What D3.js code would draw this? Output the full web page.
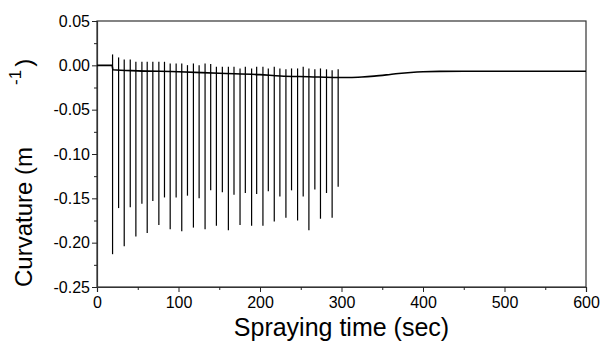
<!DOCTYPE html>
<html>
<head>
<meta charset="utf-8">
<script src="https://cdn.jsdelivr.net/npm/d3@7"></script>
<style>
  body { margin: 0; background: #fff; }
  svg text { font-family: "Liberation Sans", Arial, sans-serif; fill: #000; }
</style>
</head>
<body>
<div id="chart"></div>
<script>
// spray pulses: time (sec), top and bottom of each spike (1/m)
const spikeTimes = [19.1, 26.5, 33.4, 40.8, 47.7, 55.1, 61.6, 68.5, 75.9, 82.8,
  89.8, 97.1, 104.0, 111.0, 118.3, 125.3, 132.6, 139.5, 146.5, 153.8,
  161.2, 168.1, 175.5, 182.0, 189.7, 195.9, 203.6, 210.2, 217.5, 224.4,
  231.8, 238.7, 246.1, 253.0, 260.0, 267.3, 274.2, 281.6, 288.5, 295.9];
const spikeTops = [0.0123, 0.0089, 0.0066, 0.0066, 0.004, 0.004, 0.004, 0.004, 0.004, 0.004,
  0.0021, 0.0021, 0.0021, 0.0002, 0.0021, 0.0002, 0.0021, 0.0014, -0.0017, -0.0017,
  -0.0017, -0.0017, -0.0035, -0.0017, -0.0035, -0.0017, -0.0017, -0.0035, -0.0017, -0.0035,
  -0.0045, -0.0035, -0.0035, -0.0017, -0.0035, -0.0045, -0.0035, -0.0045, -0.0055, -0.0045];
const spikeBottoms = [-0.213, -0.161, -0.204, -0.160, -0.193, -0.156, -0.189, -0.153, -0.180, -0.149,
  -0.185, -0.149, -0.187, -0.147, -0.183, -0.150, -0.185, -0.141, -0.181, -0.143,
  -0.186, -0.146, -0.180, -0.144, -0.181, -0.145, -0.181, -0.142, -0.176, -0.148,
  -0.172, -0.141, -0.175, -0.148, -0.186, -0.140, -0.173, -0.144, -0.172, -0.137];

// slow curvature drift between pulses
const baseTimes = [0, 18.5, 19.5, 50, 100, 150, 200, 225, 260, 295, 310, 325, 340, 355, 370, 385, 400, 420, 450, 600];
const baseValues = [0, 0, -0.005, -0.0062, -0.0072, -0.009, -0.0105, -0.012, -0.0128, -0.0137,
  -0.0137, -0.0132, -0.0122, -0.0108, -0.0092, -0.0080, -0.0072, -0.0068, -0.0067, -0.0067];

const xTicks = [0, 100, 200, 300, 400, 500, 600];
const yTicks = [0.05, 0, -0.05, -0.10, -0.15, -0.20, -0.25];

const width = 603, height = 343;
const margin = { top: 21, right: 17, bottom: 56, left: 97 };

const svg = d3.select("#chart").append("svg")
  .attr("width", width)
  .attr("height", height);

const x = d3.scaleLinear([0, 600], [margin.left, width - margin.right]);
const y = d3.scaleLinear([-0.25, 0.05], [height - margin.bottom, margin.top]);

// frame
svg.append("rect")
  .attr("x", x(0)).attr("y", y(0.05))
  .attr("width", x(600) - x(0)).attr("height", y(-0.25) - y(0.05))
  .attr("fill", "none").attr("stroke", "#333").attr("stroke-width", 1.2);

// axes
const xAxis = svg.append("g")
  .attr("transform", `translate(0,${y(-0.25)})`)
  .call(d3.axisBottom(x).tickValues(xTicks).tickFormat(d3.format("d")).tickSize(5).tickPadding(5));
svg.append("g")
  .attr("transform", `translate(0,${y(-0.25)})`)
  .call(d3.axisBottom(x).tickValues(d3.range(50, 600, 100)).tickFormat("").tickSize(3))
  .select(".domain").remove();

const yAxis = svg.append("g")
  .attr("transform", `translate(${x(0)},0)`)
  .call(d3.axisLeft(y).tickValues(yTicks).tickFormat(d3.format(".2f")).tickSize(5).tickPadding(2));
svg.append("g")
  .attr("transform", `translate(${x(0)},0)`)
  .call(d3.axisLeft(y).tickValues(d3.range(-0.225, 0.05, 0.05)).tickFormat("").tickSize(3))
  .select(".domain").remove();

svg.selectAll(".domain").attr("stroke", "#333").attr("stroke-width", 1.2);
svg.selectAll(".tick line").attr("stroke", "#222");
xAxis.selectAll("text").attr("font-size", 16).attr("fill", "#000");
yAxis.selectAll("text").attr("font-size", 16).attr("fill", "#000")
  .text(d => d3.format(".2f")(d).replace("−", "-"));

// baseline trace
svg.append("path")
  .datum(d3.zip(baseTimes, baseValues))
  .attr("fill", "none")
  .attr("stroke", "#000")
  .attr("stroke-width", 1.6)
  .attr("d", d3.line().x(d => x(d[0])).y(d => y(d[1])).curve(d3.curveMonotoneX));

// spikes
svg.append("g")
  .selectAll("line")
  .data(d3.zip(spikeTimes, spikeTops, spikeBottoms))
  .join("line")
    .attr("x1", d => x(d[0])).attr("x2", d => x(d[0]))
    .attr("y1", d => y(d[1])).attr("y2", d => y(d[2]))
    .attr("stroke", "#000")
    .attr("stroke-width", 1.2);

// axis titles
svg.append("text")
  .attr("x", (x(0) + x(600)) / 2)
  .attr("y", 336)
  .attr("text-anchor", "middle")
  .attr("font-size", 25)
  .text("Spraying time (sec)");

const yLabel = svg.append("text")
  .attr("transform", `translate(32,287) rotate(-90)`)
  .attr("text-anchor", "start")
  .attr("font-size", 24);
yLabel.append("tspan").text("Curvature (m");
yLabel.append("tspan").attr("font-size", 17).attr("dx", 62).attr("dy", -11).text("-1");
yLabel.append("tspan").attr("dx", 3).attr("dy", 11).text(")");
</script>
</body>
</html>
